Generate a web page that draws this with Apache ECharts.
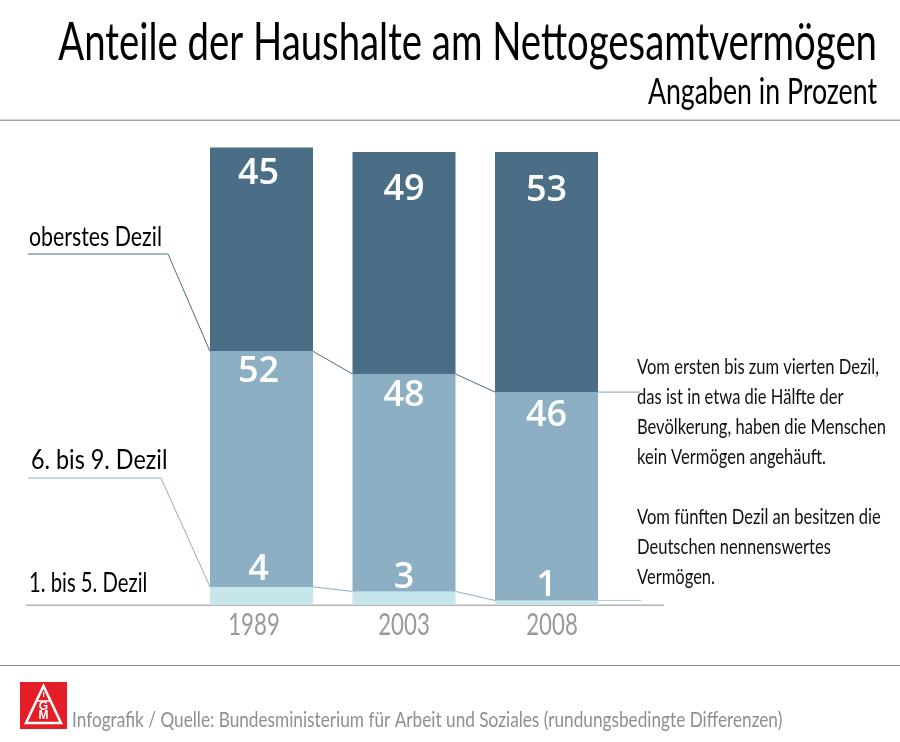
<!DOCTYPE html>
<html>
<head>
<meta charset="utf-8">
<style>
  html, body { margin: 0; padding: 0; background: #fff; }
  #chart { width: 900px; height: 742px; }
</style>
<script src="https://cdn.jsdelivr.net/npm/echarts@6/dist/echarts.min.js"></script>
</head>
<body>
<div id="chart"></div>
<script>
const years = ['1989', '2003', '2008'];
const dezil1bis5 = [4, 3, 1];
const dezil6bis9 = [52, 48, 46];
const dezilOben = [45, 49, 53];

const titleText = 'Anteile der Haushalte am Nettogesamtvermögen';
const subtitleText = 'Angaben in Prozent';
const sourceText = 'Infografik / Quelle: Bundesministerium für Arbeit und Soziales (rundungsbedingte Differenzen)';
const noteLines = [
  'Vom ersten bis zum vierten Dezil,',
  'das ist in etwa die Hälfte der',
  'Bevölkerung, haben die Menschen',
  'kein Vermögen angehäuft.',
  '',
  'Vom fünften Dezil an besitzen die',
  'Deutschen nennenswertes',
  'Vermögen.'
];

const dark = '#4a6e85';
const mid = '#8cafc4';
const light = '#c6e6ea';
const font = 'Lato';

let chart = echarts.init(document.getElementById('chart'));

// Wert mit eigener Verschiebung des Labels
function withShift(values, shifts) {
  return values.map(function (v, i) {
    return { value: v, label: { offset: [i === 0 ? -3 : 0, shifts[i]] } };
  });
}

function barLabel(position) {
  return {
    show: true,
    position: position,
    color: '#fff',
    fontFamily: 'Open Sans',
    fontWeight: 600,
    fontSize: 36
  };
}

// Verbindungslinien zwischen den Balken, laufen ueber die Achsen
const boundaryLow = dezil1bis5;
const boundaryMid = dezil1bis5.map(function (v, i) { return v + dezil6bis9[i]; });

function connector(boundary, color, stubColor, leftElbow, rightEnd) {
  return {
    type: 'custom',
    silent: true,
    clip: false,
    z: 5,
    data: [0],
    renderItem: function (params, api) {
      let half = 51.5;
      let children = [];
      for (let i = 0; i < boundary.length - 1; i++) {
        let a = api.coord([i, boundary[i]]);
        let b = api.coord([i + 1, boundary[i + 1]]);
        children.push({
          type: 'line',
          shape: { x1: a[0] + half, y1: a[1], x2: b[0] - half, y2: b[1] },
          style: { stroke: color, lineWidth: 1 }
        });
      }
      let first = api.coord([0, boundary[0]]);
      let last = api.coord([boundary.length - 1, boundary[boundary.length - 1]]);
      children.push({
        type: 'polyline',
        shape: { points: [[28, leftElbow[1]], leftElbow, [first[0] - half, first[1]]] },
        style: { stroke: color, lineWidth: 1, fill: null }
      });
      children.push({
        type: 'line',
        shape: { x1: last[0] + half, y1: last[1], x2: rightEnd, y2: last[1] },
        style: { stroke: stubColor, lineWidth: 1 }
      });
      return { type: 'group', children: children };
    }
  };
}

function txt(x, y, text, size, color, scaleX, align) {
  return {
    type: 'text',
    x: x,
    y: y,
    scaleX: scaleX,
    z: 10,
    style: {
      text: text,
      fill: color,
      fontFamily: font,
      fontSize: size,
      align: align || 'left',
      verticalAlign: 'middle'
    }
  };
}

let graphics = [
  { type: 'rect', shape: { x: 0, y: 119.5, width: 900, height: 1.5 }, style: { fill: '#a8a8a8' } },
  { type: 'rect', shape: { x: 0, y: 665, width: 900, height: 1 }, style: { fill: '#8a8a8a' } },
  { type: 'rect', shape: { x: 26, y: 604.5, width: 638, height: 1.5 }, style: { fill: '#b4b4b4' }, z: 0 },
  txt(877, 43, titleText, 52, '#000', 0.737, 'right'),
  txt(877, 92, subtitleText, 36, '#000', 0.742, 'right'),
  txt(29, 237, 'oberstes Dezil', 27, '#000', 0.79),
  txt(31, 460, '6. bis 9. Dezil', 27, '#000', 0.865),
  txt(29, 583, '1. bis 5. Dezil', 27, '#000', 0.75),
  txt(72, 720, sourceText, 22, '#8f8f8f', 0.783),
  // Logo
  { type: 'rect', shape: { x: 20, y: 682, width: 47, height: 47 }, style: { fill: '#e31e26' } },
  { type: 'polygon', shape: { points: [[43.5, 686], [61, 723], [26, 723]] }, style: { fill: 'none', stroke: '#fff', lineWidth: 2.5 } },
  { type: 'line', shape: { x1: 37, y1: 701, x2: 50, y2: 701 }, style: { stroke: '#fff', lineWidth: 1.5 } },
  { type: 'text', x: 43.5, y: 695, style: { text: 'I', fill: '#fff', fontFamily: 'Liberation Sans', fontWeight: 'bold', fontSize: 8, align: 'center', verticalAlign: 'middle' } },
  { type: 'text', x: 43.5, y: 707, style: { text: 'G', fill: '#fff', fontFamily: 'Liberation Sans', fontWeight: 'bold', fontSize: 12, align: 'center', verticalAlign: 'middle' } },
  { type: 'text', x: 43.5, y: 716, style: { text: 'M', fill: '#fff', fontFamily: 'Liberation Sans', fontWeight: 'bold', fontSize: 12, align: 'center', verticalAlign: 'middle' } }
];
noteLines.forEach(function (line, i) {
  if (line) graphics.push(txt(637, 367 + i * 30, line, 22, '#111', 0.752));
});
// Jahreszahlen: schmal gesetzt und nicht genau mittig unter den Balken
[254, 404, 552].forEach(function (x, i) {
  graphics.push(txt(x, 625, years[i], 30, '#999', 0.74, 'center'));
});

let option = {
  animation: false,
  backgroundColor: '#fff',
  grid: { left: 190.25, width: 427.5, top: 106.7, height: 498.3 },
  xAxis: {
    type: 'category',
    data: years,
    axisLine: { show: false },
    axisTick: { show: false },
    axisLabel: { show: false }
  },
  yAxis: { type: 'value', min: 0, max: 110, show: false },
  graphic: graphics,
  series: [
    {
      name: '1. bis 5. Dezil',
      type: 'bar',
      stack: 'a',
      barWidth: 103,
      itemStyle: { color: light },
      label: barLabel('top'),
      data: withShift(dezil1bis5, [6, 9, 8])
    },
    {
      name: '6. bis 9. Dezil',
      type: 'bar',
      stack: 'a',
      itemStyle: { color: mid },
      label: barLabel('insideTop'),
      data: withShift(dezil6bis9, [-3, -1, 1])
    },
    {
      name: 'oberstes Dezil',
      type: 'bar',
      stack: 'a',
      itemStyle: { color: dark },
      label: barLabel('insideTop'),
      data: withShift(dezilOben, [3, 15, 16])
    },
    connector(boundaryMid, dark, '#7f9fb3', [168, 254], 640),
    connector(boundaryLow, mid, '#a9cdd6', [161, 478], 641)
  ]
};
chart.setOption(option);
</script>
</body>
</html>
